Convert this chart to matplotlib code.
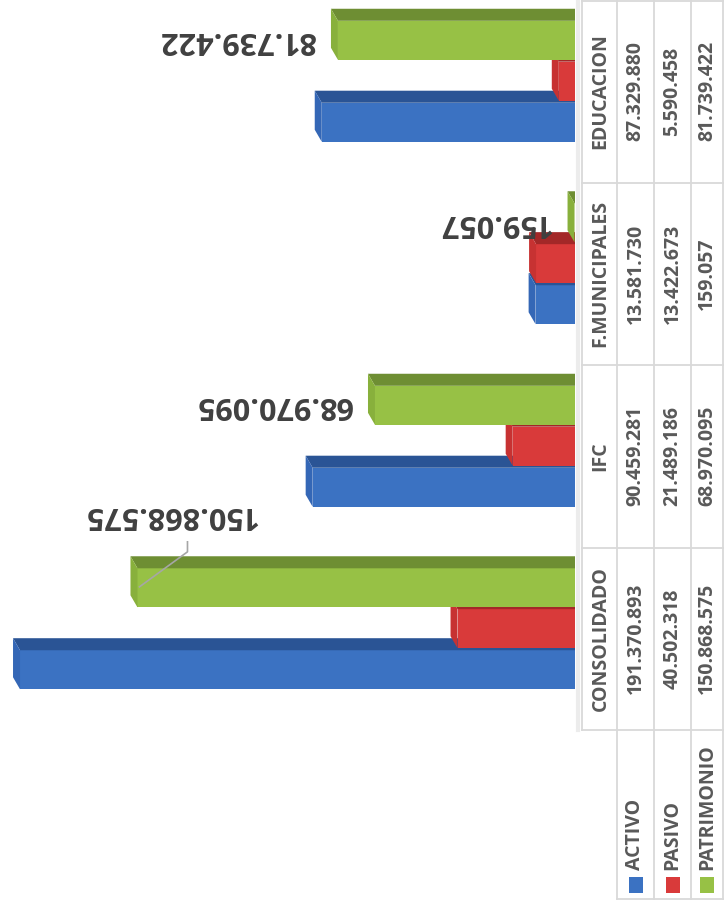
import matplotlib as mpl
import matplotlib.pyplot as plt
from matplotlib.patches import Polygon, Rectangle

mpl.rcParams['font.family'] = 'Open Sans'
mpl.rcParams['font.weight'] = 'bold'

# data (bottom to top in the picture)
categories = ['CONSOLIDADO', 'IFC', 'F.MUNICIPALES', 'EDUCACION']
series = ['ACTIVO', 'PASIVO', 'PATRIMONIO']
activo = [191370893, 90459281, 13581730, 87329880]
pasivo = [40502318, 21489186, 13422673, 5590458]
patrimonio = [150868575, 68970095, 159057, 81739422]
values = [activo, pasivo, patrimonio]

# face colours: front, top (depth), end cap
colors = [('#3b72c2', '#2a5495', '#3467b6'),
          ('#d93a3a', '#a32828', '#c73232'),
          ('#97c145', '#6e8e33', '#88b03c')]
offsets = [-0.170, 0.055, 0.279]   # bar centre inside a category slot
bar_h = 0.214
depth = 0.066

W, H = 724, 907
fig = plt.figure(figsize=(W / 100, H / 100), dpi=100)

def px_axes(x0, y0, w, h):
    return fig.add_axes([x0 / W, 1 - (y0 + h) / H, w / W, h / H])

plot_w, plot_h = 575, 730
xmax = plot_w / 2.9 * 1e6
ax = px_axes(0, 0, plot_w, plot_h)
ax.set_xlim(xmax, 0)
ax.set_ylim(-0.5, len(categories) - 0.5)
ax.axis('off')
dxv = 7 * xmax / plot_w

def fmt(v):
    return f"{v:,}".replace(',', '.')

for s in range(len(series)):
    front, top, cap = colors[s]
    for i, v in enumerate(values[s]):
        yb = i + offsets[s] - bar_h / 2
        yt = yb + bar_h
        z = 2 + s
        ax.add_patch(Rectangle((0, yb), v, bar_h, facecolor=front, edgecolor='none', zorder=z))
        ax.add_patch(Polygon([(0, yt), (v, yt), (v + dxv, yt + depth), (0, yt + depth)],
                             facecolor=top, edgecolor='none', zorder=z))
        ax.add_patch(Polygon([(v, yb), (v, yt), (v + dxv, yt + depth), (v + dxv, yb + depth)],
                             facecolor=cap, edgecolor='none', zorder=z))

# overlay in pixel coordinates for table, legend and leader line
ov = px_axes(0, 0, W, H)
ov.set_xlim(0, W)
ov.set_ylim(H, 0)
ov.axis('off')
ov.patch.set_alpha(0)

# data labels on PATRIMONIO
for i, v in enumerate(patrimonio):
    yc = i + offsets[2]
    if v > 140e6:
        # label moved above the bar with a leader line
        ax.annotate(fmt(v), (v + dxv, yc), xytext=(134 - 7, 73), textcoords='offset pixels',
                    rotation=180, rotation_mode='anchor', ha='left', va='center',
                    fontsize=22, color='#404040', zorder=10)
        bx, by = ax.transData.transform((v, yc))
        lx = [bx + 50, bx + 50, bx + 2]
        ly = [H - (by + 46), H - (by + 36), H - (by + 1)]
        ov.plot(lx, ly, color='#a6a6a6', lw=1.2, zorder=10)
    else:
        ax.annotate(fmt(v), (v + dxv, yc), xytext=(-16, 0), textcoords='offset pixels',
                    rotation=180, rotation_mode='anchor', ha='left', va='center',
                    fontsize=22, color='#404040', zorder=10)

# table
grid = '#d9d9d9'
tx0, c1, c2, c3, tx1 = 582, 617, 654, 691, 723
slot = plot_h / len(categories)
ov.plot([578, 578], [0, plot_h], color='#ececec', lw=3, zorder=1)
for k in range(len(categories) + 1):
    y = k * slot
    ov.plot([tx0, tx1], [y + 1 if k == 0 else y, y + 1 if k == 0 else y], color=grid, lw=1.3)
ov.plot([c1, tx1], [899, 899], color=grid, lw=1.3)
ov.plot([tx0, tx0], [0, plot_h], color=grid, lw=1.3)
for x in (c1, c2, c3, tx1):
    ov.plot([x, x], [0, 899], color=grid, lw=1.3)

col_x = [(c1 + c2) / 2, (c2 + c3) / 2, (c3 + tx1) / 2]
txt = '#595959'
for i, cat in enumerate(categories):
    yc = plot_h - (i + 0.5) * slot
    ov.text((tx0 + c1) / 2 + 1, yc, cat, rotation=90, ha='center', va='center',
            fontsize=14, color=txt)
    for s in range(len(series)):
        ov.text(col_x[s], yc, fmt(values[s][i]), rotation=90, ha='center', va='center',
                fontsize=14, color=txt)

# legend keys in the table
for s, name in enumerate(series):
    ov.add_patch(Rectangle((col_x[s] - 7, 877), 14, 16, facecolor=colors[s][0], edgecolor='none'))
    ov.text(col_x[s], 870, name, rotation=90, rotation_mode='anchor', ha='left',
            va='center', fontsize=14, color=txt)

fig.savefig('out.png', dpi=100)
